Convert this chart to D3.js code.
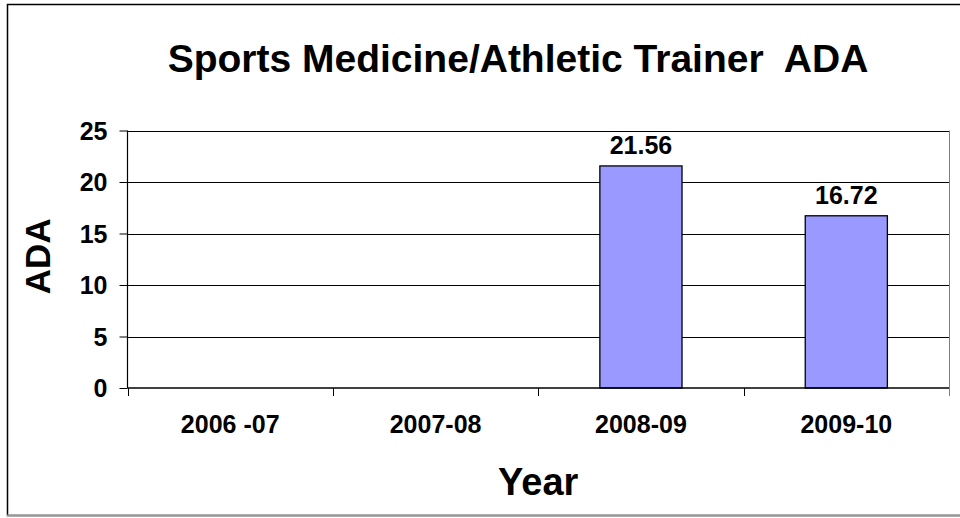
<!DOCTYPE html>
<html>
<head>
<meta charset="utf-8">
<script src="https://cdn.jsdelivr.net/npm/d3@7"></script>
<style>
  html, body { margin: 0; padding: 0; background: #fff; }
  svg text { font-family: "Liberation Sans", Arial, sans-serif; font-weight: bold; fill: #000; }
</style>
</head>
<body>
<svg id="chart" width="960" height="518"></svg>
<script>
const categories = ["2006 -07", "2007-08", "2008-09", "2009-10"];
const values = [null, null, 21.56, 16.72];
const yTicks = [0, 5, 10, 15, 20, 25];
const titleText = "Sports Medicine/Athletic Trainer  ADA";
const xTitle = "Year";
const yTitle = "ADA";

const svg = d3.select("#chart");
const plot = { left: 127.5, right: 949, top: 130.5, bottom: 388 };

// outer frame
svg.append("rect").attr("x", 7.5).attr("y", 4.5).attr("width", 1000).attr("height", 511)
  .attr("fill", "#fff").attr("stroke", "#000").attr("stroke-width", 1.5);
svg.append("line").attr("x1", 7).attr("x2", 960).attr("y1", 515.5).attr("y2", 515.5)
  .attr("stroke", "#999").attr("stroke-width", 2);

const x = d3.scaleBand().domain(categories).range([plot.left, plot.right]).paddingInner(0.6).paddingOuter(0.3);
const xCat = d3.scaleBand().domain(categories).range([plot.left, plot.right]).padding(0);
const y = d3.scaleLinear().domain([0, 25]).range([plot.bottom, plot.top]);

// gridlines
svg.append("g").selectAll("line").data(yTicks.filter(d => d > 0)).join("line")
  .attr("x1", plot.left).attr("x2", plot.right)
  .attr("y1", d => Math.round(y(d)) + 0.5).attr("y2", d => Math.round(y(d)) + 0.5)
  .attr("stroke", "#000").attr("stroke-width", 1);

// right border of plot
svg.append("line").attr("x1", plot.right + 0.5).attr("x2", plot.right + 0.5)
  .attr("y1", plot.top).attr("y2", plot.bottom)
  .attr("stroke", "#808080").attr("stroke-width", 1);

// bars
const data = categories.map((c, i) => ({ c, v: values[i] })).filter(d => d.v != null);
svg.append("g").selectAll("rect").data(data).join("rect")
  .attr("x", d => x(d.c)).attr("width", x.bandwidth())
  .attr("y", d => y(d.v)).attr("height", d => y(0) - y(d.v))
  .attr("fill", "#9999FF").attr("stroke", "#000").attr("stroke-width", 1.3);

// data labels
svg.append("g").selectAll("text").data(data).join("text")
  .attr("x", d => x(d.c) + x.bandwidth() / 2).attr("y", d => y(d.v) - 12)
  .attr("text-anchor", "middle").attr("font-size", 25)
  .text(d => d.v.toFixed(2));

// y axis
const yAxis = d3.axisLeft(y).tickValues(yTicks).tickSize(8).tickPadding(12).tickFormat(d3.format("d"));
const gy = svg.append("g").attr("transform", `translate(${plot.left},0)`).call(yAxis);
gy.select(".domain").attr("stroke", "#000").attr("stroke-width", 1.2).attr("d", `M0,${plot.top}V${plot.bottom}`);
gy.selectAll(".tick line").attr("stroke", "#000");
gy.selectAll(".tick text").attr("font-size", 25).attr("font-family", null).attr("dy", "0.35em");

// x axis
const xAxis = d3.axisBottom(xCat).tickSize(0).tickPadding(27);
const gx = svg.append("g").attr("transform", `translate(0,${plot.bottom})`).call(xAxis);
gx.select(".domain").attr("stroke", "#000").attr("stroke-width", 1.5).attr("d", `M${plot.left},0H${plot.right}`);
gx.selectAll(".tick text").attr("font-size", 25).attr("font-family", null).attr("dy", "0.71em");
// category boundary ticks
const bounds = categories.map(c => xCat(c)).concat([plot.right]);
svg.append("g").selectAll("line").data(bounds).join("line")
  .attr("x1", d => Math.round(d) + 0.5).attr("x2", d => Math.round(d) + 0.5)
  .attr("y1", plot.bottom).attr("y2", plot.bottom + 8)
  .attr("stroke", (d, i) => i === bounds.length - 1 ? "#808080" : "#000").attr("stroke-width", 1);

// titles
svg.append("text").attr("x", 518).attr("y", 72).attr("text-anchor", "middle")
  .attr("font-size", 39).style("white-space", "pre").text(titleText);
svg.append("text").attr("x", (plot.left + plot.right) / 2).attr("y", 495).attr("text-anchor", "middle")
  .attr("font-size", 38).text(xTitle);
svg.append("text").attr("transform", `translate(50,${(plot.top + plot.bottom) / 2 - 3}) rotate(-90)`)
  .attr("text-anchor", "middle").attr("font-size", 35).text(yTitle);
</script>
</body>
</html>
